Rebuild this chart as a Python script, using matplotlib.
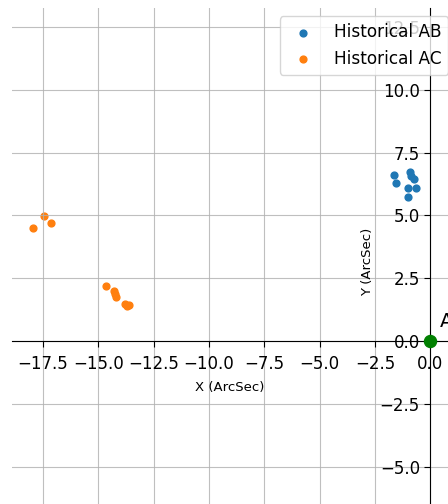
import matplotlib
matplotlib.use('Agg')
import matplotlib.pyplot as plt

# relative positions of the companions (ArcSec)
ab_x = [-1.63, -1.54, -0.91, -0.86, -0.73, -1.00, -0.63, -1.00]
ab_y = [6.59, 6.31, 6.71, 6.55, 6.47, 6.11, 6.11, 5.75]

ac_x = [-17.96, -17.46, -17.14, -14.65, -14.29, -14.24, -14.20, -13.79, -13.61, -13.70]
ac_y = [4.52, 4.96, 4.72, 2.18, 1.98, 1.87, 1.75, 1.47, 1.43, 1.39]

plt.rcParams['font.size'] = 12

fig = plt.figure(figsize=(4.48, 5.04), dpi=100)
ax = fig.add_axes([12 / 448, -12 / 504, 436 / 448, 508 / 504])

ax.scatter(ab_x, ab_y, s=24, label='Historical AB')
ax.scatter(ac_x, ac_y, s=24, label='Historical AC')
ax.scatter([0], [0], s=75, color='green', zorder=3)
ax.text(0.45, 0.55, 'A', fontsize=14)

ax.set_xlim(-18.9, 0.8)
ax.set_ylim(-6.95, 13.25)

ax.spines['left'].set_position('zero')
ax.spines['bottom'].set_position('zero')
ax.spines['right'].set_visible(False)
ax.spines['top'].set_visible(False)

ax.set_xticks([-17.5, -15, -12.5, -10, -7.5, -5, -2.5, 0])
ax.set_yticks([-5, -2.5, 0, 2.5, 5, 7.5, 10, 12.5])
ax.tick_params(labelsize=12, length=4)
ax.tick_params(axis='x', pad=6)
ax.grid(True, color='#b0b0b0', alpha=0.8)

ax.set_xlabel('X (ArcSec)', fontsize=9.5, labelpad=6)
ax.set_ylabel('Y (ArcSec)', fontsize=9.5)
# legend sits partly past the right edge, as in the cropped original
ax.legend(loc='upper right', fontsize=12.2, bbox_to_anchor=(1.02, 1.0))

fig.savefig('out.png', dpi=100)
